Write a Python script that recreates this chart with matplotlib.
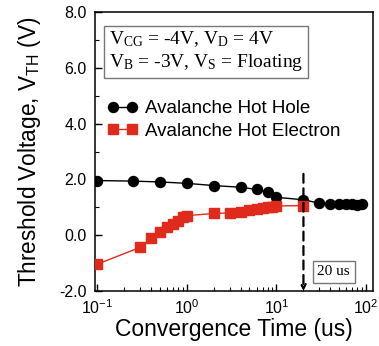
import matplotlib
matplotlib.use("Agg")
import matplotlib.pyplot as plt
from matplotlib.ticker import MultipleLocator, FixedFormatter, FixedLocator, LogLocator, NullFormatter

plt.rcParams['font.family'] = ['Liberation Sans', 'DejaVu Sans']
plt.rcParams['mathtext.fontset'] = 'custom'
plt.rcParams['mathtext.rm'] = 'Liberation Sans'

hole_t = [0.1, 0.25, 0.5, 1, 2, 4, 6, 8, 10, 20, 30, 40, 50, 60, 70, 80, 90]
hole_v = [1.96, 1.94, 1.91, 1.86, 1.78, 1.72, 1.64, 1.55, 1.36, 1.27, 1.15, 1.12, 1.12, 1.12, 1.12, 1.08, 1.12]

elec_t = [0.1, 0.3, 0.4, 0.5, 0.6, 0.7, 0.8, 0.9, 1, 2, 3, 4, 5, 6, 7, 8, 9, 10, 20]
elec_v = [-1.04, -0.44, -0.11, 0.11, 0.28, 0.40, 0.52, 0.64, 0.70, 0.78, 0.80, 0.85, 0.90,
          0.94, 0.98, 1.00, 1.02, 1.05, 1.06]

y_ticks = [-2, 0, 2, 4, 6, 8]
y_labels = ["-2.0", "0.0", "2.0", "4.0", "6.0", "8.0"]

fig = plt.figure(figsize=(3.79, 3.46), dpi=100)
ax = fig.add_axes([0.251, 0.159, 0.732, 0.806])

ax.plot(hole_t, hole_v, color='black', marker='o', markersize=7.2, lw=1,
        label='Avalanche Hot Hole', zorder=3)
ax.plot(elec_t, elec_v, color='#e02a1c', marker='s', markersize=6.5, lw=1,
        label='Avalanche Hot Electron', zorder=3)

# dashed marker at 20 us
ax.annotate('', xy=(20, -2.0), xytext=(20, 2.2),
            arrowprops=dict(arrowstyle='-|>', linestyle=(0, (4, 2.5)), color='black', lw=1.6,
                            shrinkA=0, shrinkB=0, fill=False, mutation_scale=8))
ax.text(43.4, -1.31, '20 us', family='Liberation Serif', fontsize=11, ha='center', va='center',
        bbox=dict(boxstyle='square,pad=0.3', fc='white', ec='#777777', lw=1))

ax.text(0.135, 6.59, '$\\mathregular{V_{CG}}$ = -4V, $\\mathregular{V_D}$ = 4V\n'
        '$\\mathregular{V_B}$ = -3V, $\\mathregular{V_S}$ = Floating',
        family='Liberation Serif', fontsize=14, va='center', ha='left', linespacing=1.2,
        bbox=dict(boxstyle='square,pad=0.25', fc='white', ec='#777777', lw=1))

ax.set_xscale('log')
ax.set_xlim(0.095, 118)
ax.set_ylim(-2, 8)
ax.xaxis.set_major_locator(LogLocator(base=10, numticks=5))
ax.xaxis.set_minor_locator(LogLocator(base=10, subs=range(2, 10), numticks=20))
ax.xaxis.set_minor_formatter(NullFormatter())
ax.yaxis.set_major_locator(FixedLocator(y_ticks))
ax.yaxis.set_major_formatter(FixedFormatter(y_labels))
ax.yaxis.set_minor_locator(MultipleLocator(1))
ax.tick_params(which='both', direction='in', top=False, right=False, labelsize=11.5)
ax.tick_params(which='major', length=5, width=1)
ax.tick_params(which='minor', length=3, width=0.8)
ax.tick_params(axis='x', pad=5)
ax.tick_params(axis='y', pad=6)
for s in ax.spines.values():
    s.set_linewidth(1.1)

ax.set_xlabel('Convergence Time (us)', fontsize=16.5, labelpad=1)
ax.set_ylabel('Threshold Voltage, $\\mathregular{V_{TH}}$ (V)', fontsize=16.3, labelpad=12)

ax.legend(loc='upper left', bbox_to_anchor=(0.043, 0.685), frameon=False, fontsize=13.5,
          numpoints=2, handlelength=1.65, handletextpad=0.4, labelspacing=0.3,
          borderpad=0, borderaxespad=0)

fig.savefig('out.png', dpi=100)
